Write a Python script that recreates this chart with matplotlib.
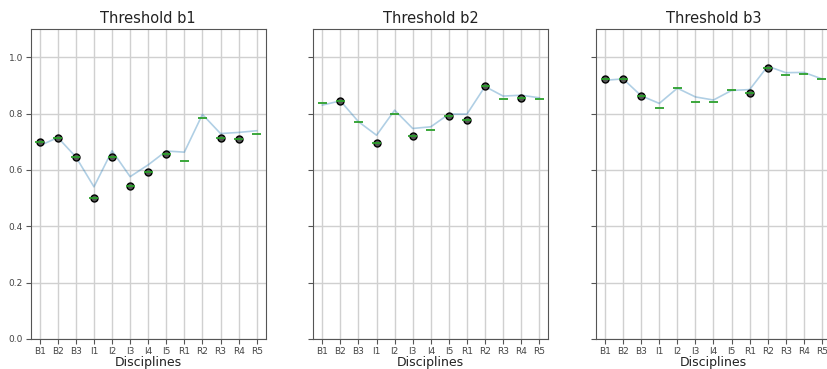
import numpy as np
import matplotlib
matplotlib.use("Agg")
import matplotlib.pyplot as plt

disciplines = ["B1", "B2", "B3", "I1", "I2", "I3", "I4", "I5", "R1", "R2", "R3", "R4", "R5"]

# medians (green bars) per threshold
med_b1 = [0.700, 0.715, 0.646, 0.499, 0.646, 0.543, 0.591, 0.658, 0.631, 0.783, 0.714, 0.711, 0.729]
med_b2 = [0.838, 0.845, 0.771, 0.697, 0.798, 0.720, 0.741, 0.790, 0.777, 0.896, 0.853, 0.855, 0.851]
med_b3 = [0.923, 0.923, 0.863, 0.820, 0.890, 0.842, 0.842, 0.882, 0.872, 0.963, 0.936, 0.939, 0.923]

# line values (light blue)
line_b1 = [0.686, 0.715, 0.646, 0.540, 0.668, 0.576, 0.618, 0.667, 0.663, 0.797, 0.729, 0.733, 0.739]
line_b2 = [0.830, 0.845, 0.771, 0.723, 0.812, 0.747, 0.753, 0.798, 0.798, 0.896, 0.862, 0.865, 0.856]
line_b3 = [0.918, 0.923, 0.863, 0.836, 0.890, 0.859, 0.848, 0.882, 0.885, 0.968, 0.945, 0.946, 0.923]

# which disciplines show an outlier circle
circ_b1 = [1, 1, 1, 1, 1, 1, 1, 1, 0, 0, 1, 1, 0]
circ_b2 = [0, 1, 0, 1, 0, 1, 0, 1, 1, 1, 0, 1, 0]
circ_b3 = [1, 1, 1, 0, 0, 0, 0, 0, 1, 1, 0, 0, 0]

panels = [
    ("Threshold b1", med_b1, line_b1, circ_b1),
    ("Threshold b2", med_b2, line_b2, circ_b2),
    ("Threshold b3", med_b3, line_b3, circ_b3),
]

fig = plt.figure(figsize=(8.28, 3.69), dpi=100)
lefts = [30.7, 313.3, 596.0]
w = 235.0
axes = []
for i, left in enumerate(lefts):
    ax = fig.add_axes([left / 828, 30 / 369, w / 828, 310 / 369],
                      sharey=axes[0] if axes else None)
    axes.append(ax)

for ax, (title, med, line, circ) in zip(axes, panels):
    pos = np.arange(1, len(disciplines) + 1)
    stats = []
    for m, c in zip(med, circ):
        stats.append({"med": m, "q1": m, "q3": m, "whislo": m, "whishi": m,
                      "fliers": [m] if c else []})
    ax.bxp(stats, positions=pos, widths=0.5, showbox=False, showcaps=False,
           whiskerprops=dict(linewidth=0),
           medianprops=dict(color="#2ca02c", linewidth=1.3, zorder=4),
           flierprops=dict(marker="o", markerfacecolor="#555555",
                           markeredgecolor="black", markersize=5, zorder=3))
    ax.plot(pos, line, color="#1f77b4", alpha=0.35, linewidth=1.2, zorder=2)
    ax.set_xticks(pos)
    ax.set_xticklabels(disciplines, fontsize=6.5, color="#444444")
    ax.set_title(title, fontsize=10.5, color="#222222", pad=4)
    ax.set_xlabel("Disciplines", fontsize=9, color="#222222", labelpad=0)
    ax.grid(True, color="#d0d0d0", linewidth=1)
    ax.set_axisbelow(True)
    ax.set_xlim(0.5, len(disciplines) + 0.5)
    for s in ax.spines.values():
        s.set_color("#555555")
    ax.tick_params(axis="both", colors="#555555", labelsize=6.5, labelcolor="#444444",
                   pad=2)

axes[0].set_ylim(0, 1.1)
axes[0].set_yticks([0.0, 0.2, 0.4, 0.6, 0.8, 1.0])
for ax in axes[1:]:
    ax.tick_params(labelleft=False)

fig.savefig("out.png", dpi=100)
